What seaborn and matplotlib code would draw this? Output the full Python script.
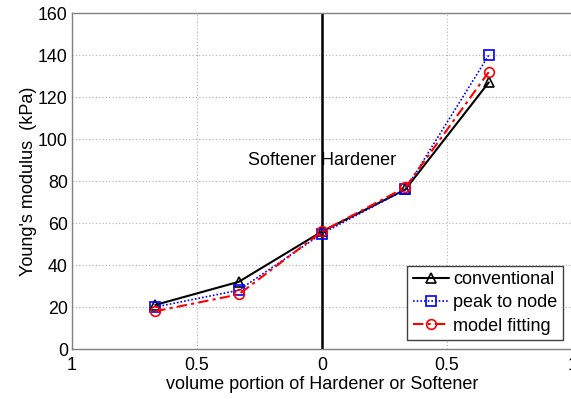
import matplotlib
matplotlib.use("Agg")
import matplotlib.pyplot as plt
import seaborn as sns
import pandas as pd

# volume fraction: negative = softener, positive = hardener
volume = [-2/3, -1/3, 0.0, 1/3, 2/3]
conventional = [21, 32, 56, 76, 127]
peak_to_node = [20, 28, 55, 76, 140]
model_fitting = [18, 26, 56, 77, 132]

x_ticks = [-1, -0.5, 0, 0.5, 1]
x_tick_labels = ["1", "0.5", "0", "0.5", "1"]
y_ticks = [0, 20, 40, 60, 80, 100, 120, 140, 160]

sns.set_style("white")
plt.rcParams["font.family"] = ["Liberation Sans", "DejaVu Sans"]
plt.rcParams["text.color"] = "black"
plt.rcParams["axes.labelcolor"] = "black"
plt.rcParams["xtick.color"] = "black"
plt.rcParams["ytick.color"] = "black"

df = pd.DataFrame({
    "volume": volume * 3,
    "modulus": conventional + peak_to_node + model_fitting,
    "method": ["conventional"] * 5 + ["peak to node"] * 5 + ["model fitting"] * 5,
})

styles = {
    "conventional": dict(color="black", marker="^", ls="-", lw=1.5),
    "peak to node": dict(color="#0000ff", marker="s", ls=(0, (1, 1.2)), lw=1.2),
    "model fitting": dict(color="#ff0000", marker="o", ls=(0, (5, 2, 1.5, 2)), lw=1.5),
}

fs = 13

fig = plt.figure(figsize=(5.71, 3.99), dpi=100)
ax = fig.add_axes([0.126, 0.1253, 0.876, 0.8417])

for name, st in styles.items():
    sub = df[df["method"] == name]
    sns.lineplot(data=sub, x="volume", y="modulus", ax=ax, label=name,
                 color=st["color"], marker=st["marker"], linestyle=st["ls"],
                 linewidth=st["lw"], markersize=7, markerfacecolor="none",
                 markeredgecolor=st["color"], markeredgewidth=1.2, sort=False)

ax.axvline(0, color="black", lw=1.8, zorder=1)
ax.text(0, 90, "Softener Hardener", ha="center", va="center", fontsize=fs)

ax.set_xlim(-1, 1)
ax.set_ylim(0, 160)
ax.set_xticks(x_ticks)
ax.set_xticklabels(x_tick_labels)
ax.set_yticks(y_ticks)
ax.tick_params(axis="both", labelsize=12.8, direction="in", length=3,
               color="#808080", labelcolor="black")
ax.tick_params(axis="x", pad=6)
ax.tick_params(axis="y", pad=3)
ax.grid(True, color="#b0b0b0", linestyle=(0, (1, 2)), linewidth=0.8)
for s in ax.spines.values():
    s.set_color("#808080")
    s.set_linewidth(1.0)

ax.set_xlabel("volume portion of Hardener or Softener", fontsize=fs, labelpad=1)
ax.set_ylabel("Young's modulus  (kPa)", fontsize=fs, labelpad=1)

leg = ax.legend(loc="lower right", fontsize=fs, frameon=True, fancybox=False,
                framealpha=1, edgecolor="#404040", handlelength=2.0,
                handletextpad=0.25, borderpad=0.3, labelspacing=0.35,
                borderaxespad=0.5)
leg.get_frame().set_linewidth(1.0)

fig.savefig("out.png", dpi=100)
